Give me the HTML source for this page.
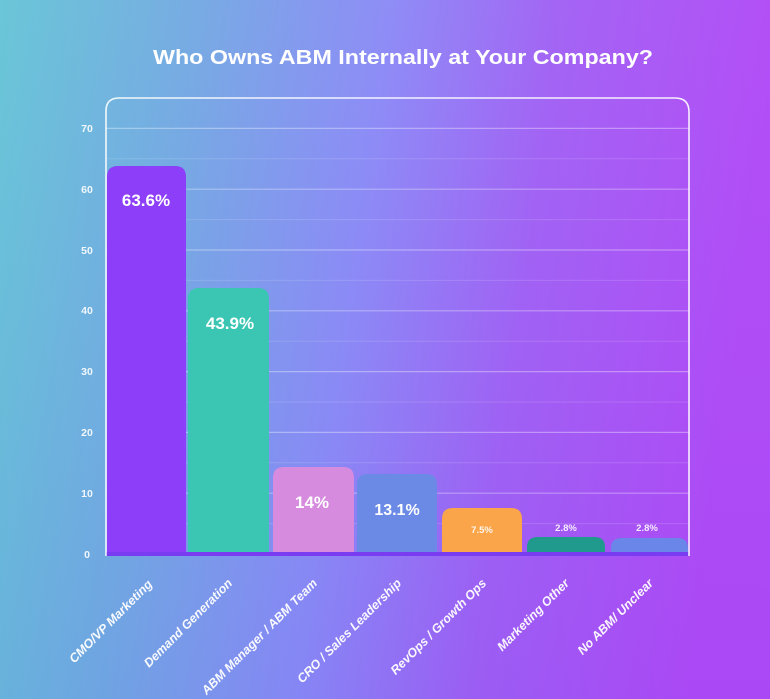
<!DOCTYPE html>
<html><head><meta charset="utf-8"><style>
html,body{margin:0;padding:0;width:770px;height:699px;overflow:hidden}
svg{display:block}
text{font-family:"Liberation Sans",sans-serif;fill:#fff}
</style></head><body>
<svg width="770" height="699" viewBox="0 0 770 699" xmlns="http://www.w3.org/2000/svg">
<defs>
<linearGradient id="bg" x1="0" y1="0" x2="1" y2="0.12">
<stop offset="0" stop-color="#64c4d6"/>
<stop offset="0.25" stop-color="#72a8e2"/>
<stop offset="0.5" stop-color="#8a88f6"/>
<stop offset="0.72" stop-color="#a05ef4"/>
<stop offset="1" stop-color="#b048f6"/>
</linearGradient>
<linearGradient id="bg2" x1="0" y1="0" x2="0" y2="1">
<stop offset="0" stop-color="#ffffff" stop-opacity="0.04"/>
<stop offset="1" stop-color="#3050e0" stop-opacity="0.05"/>
</linearGradient>
</defs>
<rect width="770" height="699" fill="url(#bg)"/>
<rect width="770" height="699" fill="url(#bg2)"/>

<text x="403" y="64" text-anchor="middle" font-size="20" font-weight="bold" textLength="500" lengthAdjust="spacingAndGlyphs">Who Owns ABM Internally at Your Company?</text>

<!-- minor gridlines -->
<g stroke="#ffffff" stroke-opacity="0.14" stroke-width="1">
<line x1="106" x2="689" y1="523.6" y2="523.6"/>
<line x1="106" x2="689" y1="462.8" y2="462.8"/>
<line x1="106" x2="689" y1="402" y2="402"/>
<line x1="106" x2="689" y1="341.2" y2="341.2"/>
<line x1="106" x2="689" y1="280.4" y2="280.4"/>
<line x1="106" x2="689" y1="219.6" y2="219.6"/>
<line x1="106" x2="689" y1="158.8" y2="158.8"/>
</g>
<!-- major gridlines -->
<g stroke="#ffffff" stroke-opacity="0.35" stroke-width="1.2">
<line x1="106" x2="689" y1="493.2" y2="493.2"/>
<line x1="106" x2="689" y1="432.4" y2="432.4"/>
<line x1="106" x2="689" y1="371.6" y2="371.6"/>
<line x1="106" x2="689" y1="310.8" y2="310.8"/>
<line x1="106" x2="689" y1="250" y2="250"/>
<line x1="106" x2="689" y1="189.2" y2="189.2"/>
<line x1="106" x2="689" y1="128.4" y2="128.4"/>
</g>

<!-- y labels -->
<g font-size="10.5" font-weight="bold" text-anchor="middle" fill-opacity="0.9">
<text x="87" y="558">0</text>
<text x="87" y="497">10</text>
<text x="87" y="436">20</text>
<text x="87" y="375">30</text>
<text x="87" y="314">40</text>
<text x="87" y="254">50</text>
<text x="87" y="193">60</text>
<text x="87" y="132">70</text>
</g>

<!-- bars -->
<path d="M107,554 V177 Q107,166 118,166 H175 Q186,166 186,177 V554 Z" fill="#8c3ef9"/>
<path d="M188,554 V299 Q188,288 199,288 H258 Q269,288 269,299 V554 Z" fill="#3ac6b3"/>
<path d="M273,554 V478 Q273,467 284,467 H343 Q354,467 354,478 V554 Z" fill="#d68bde"/>
<path d="M357,554 V485 Q357,474 368,474 H426 Q437,474 437,485 V554 Z" fill="#6b8ae6"/>
<path d="M442,554 V519 Q442,508 453,508 H511 Q522,508 522,519 V554 Z" fill="#fba54a"/>
<path d="M527,554 V547 Q527,537 538,537 H594 Q605,537 605,547 V554 Z" fill="#1f9a8c"/>
<path d="M611,554 V548 Q611,538 622,538 H677 Q688,538 688,548 V554 Z" fill="#6a86e8"/>

<!-- baseline -->
<rect x="106" y="552" width="583" height="4" fill="#7a3cf0"/>

<!-- frame -->
<path d="M106,556 V111 Q106,98 119,98 H675 Q689,98 689,112 V556" fill="none" stroke="#ffffff" stroke-opacity="0.9" stroke-width="1.6"/>

<!-- data labels -->
<g font-weight="bold" text-anchor="middle">
<text x="146" y="206" font-size="17">63.6%</text>
<text x="230" y="329" font-size="17">43.9%</text>
<text x="312" y="508" font-size="17">14%</text>
<text x="397" y="515" font-size="16">13.1%</text>
<text x="482" y="533" font-size="9.5" fill-opacity="0.9">7.5%</text>
<text x="566" y="531" font-size="9.5" fill-opacity="0.9">2.8%</text>
<text x="647" y="531" font-size="9.5" fill-opacity="0.9">2.8%</text>
</g>

<!-- x labels -->
<g font-size="12.5" font-weight="bold" font-style="italic" text-anchor="end" fill-opacity="0.95">
<text transform="translate(153,585) rotate(-45)">CMO/VP Marketing</text>
<text transform="translate(233,584) rotate(-45)">Demand Generation</text>
<text transform="translate(318,584) rotate(-45)">ABM Manager / ABM Team</text>
<text transform="translate(402,584) rotate(-45)">CRO / Sales Leadership</text>
<text transform="translate(487,584) rotate(-45)">RevOps / Growth Ops</text>
<text transform="translate(570,584) rotate(-45)">Marketing Other</text>
<text transform="translate(654,584) rotate(-45)">No ABM/ Unclear</text>
</g>
</svg>
</body></html>
